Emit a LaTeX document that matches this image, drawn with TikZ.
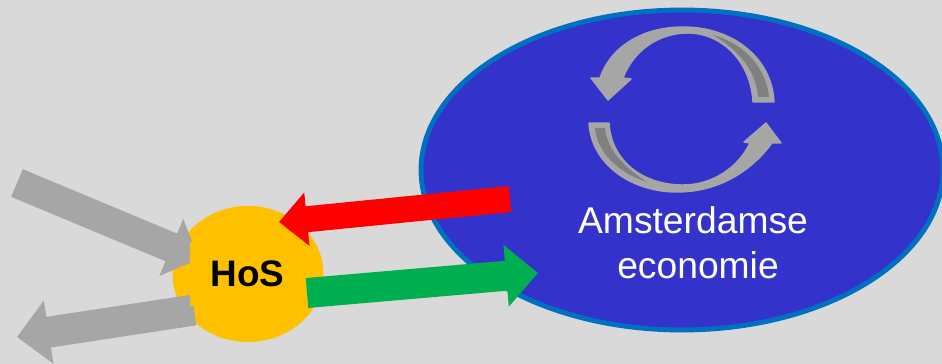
\documentclass[tikz,border=0pt]{standalone}
\usepackage{fontspec}
\setmainfont{Liberation Sans}
\usetikzlibrary{arrows.meta, shapes.geometric}
\definecolor{bgGrey}{HTML}{D9D9D9}
\definecolor{arrowGrey}{HTML}{A6A6A6}
\definecolor{bandGrey}{HTML}{808080}
\definecolor{ecoBlue}{HTML}{3333CC}
\definecolor{ecoEdge}{HTML}{0070C0}
\definecolor{hosOrange}{HTML}{FFC000}
\definecolor{flowGreen}{HTML}{00B050}
\tikzset{
  blockarrow/.style n args={3}{line width=#1*0.02cm, draw=#3,
    -{Triangle[length=#2*0.02cm, width=2*#1*0.02cm, fill=#3]}},
  turnarrow/.style={fill=arrowGrey, draw=arrowGrey, line width=0.8pt, line join=round},
}
\begin{document}
\begin{tikzpicture}[x=0.02cm, y=-0.02cm]
\fill[bgGrey] (0,0) rectangle (942,364);
\useasboundingbox (0,0) rectangle (942,364);
% the two shapes
\node[ellipse, draw=ecoEdge, fill=ecoBlue, line width=2.8pt, minimum width=10.44cm, minimum height=6.4cm] (eco) at (682,170) {};
\node[ellipse, fill=hosOrange, minimum width=3.02cm, minimum height=2.72cm] (hosBack) at (248,274) {};
% turning arrows
\draw[turnarrow] (774,102) .. controls (772,58) and (733,27) .. (683,27) .. controls (641,27) and (610,48) .. (600,78) -- (591,78) -- (608,100) -- (631,79) -- (623,78) .. controls (633,52) and (657,33) .. (688,33) .. controls (722,33) and (751,62) .. (753,102) -- cycle;
\fill[bandGrey] (769,97) .. controls (766,68) and (745,44) .. (713,35) .. controls (738,50) and (756,70) .. (758,97) -- cycle;
\draw[turnarrow] (589,123) .. controls (591,163) and (630,192) .. (677,192) .. controls (720,192) and (752,170) .. (772,143) -- (781,143) -- (766,123) -- (744,142) -- (750,143) .. controls (738,168) and (712,185) .. (683,185) .. controls (642,185) and (611,160) .. (609,123) -- cycle;
\fill[bandGrey] (595,128) .. controls (597,152) and (618,173) .. (647,182) .. controls (625,168) and (607,150) .. (605,128) -- cycle;
% arrows behind the label box
\coordinate (inA) at (17,183);
\coordinate (inB) at (199,259);
\coordinate (outA) at (194,310);
\coordinate (outB) at (17,337);
\coordinate (redA) at (510,199);
\coordinate (redB) at (279,222);
\coordinate (greenA) at (307,293);
\coordinate (greenB) at (538,273);
\draw[blockarrow={30}{30}{arrowGrey}] (inA) -- (inB);
\draw[blockarrow={31}{32}{arrowGrey}] (outA) -- (outB);
\draw[blockarrow={26}{28}{red}] (redA) -- (redB);
\node[fill=hosOrange, minimum width=2.3cm, minimum height=1.3cm, inner sep=0pt, font=\bfseries\fontsize{21}{25}\selectfont] (hos) at (247.5,274) {HoS};
\draw[blockarrow={30}{32}{flowGreen}] (greenA) -- (greenB);
\node[text=white, align=center, font=\fontsize{21.2}{25.6}\selectfont] (ecoText) at (693,242.5) {Amsterdamse\\\hspace*{0.2cm}economie};
\end{tikzpicture}
\end{document}
